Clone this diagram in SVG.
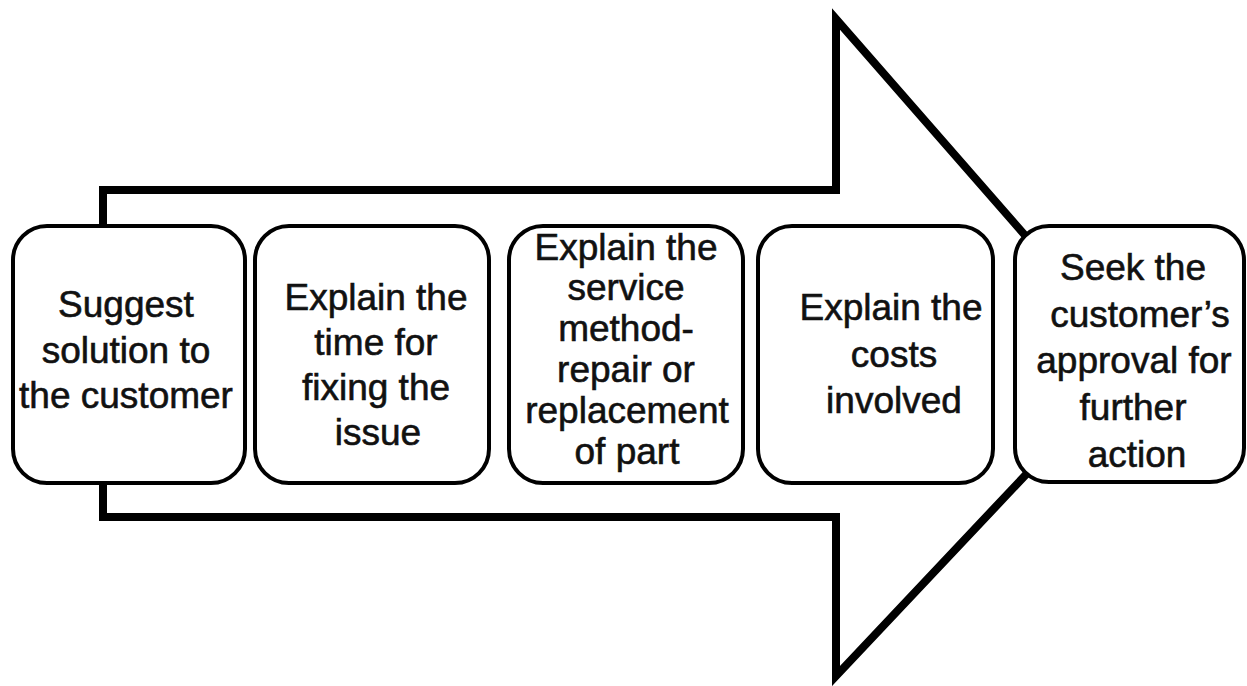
<svg xmlns="http://www.w3.org/2000/svg" width="1247" height="686" viewBox="0 0 1247 686">
<style>
.box{fill:#fff;stroke:#000;stroke-width:4}
.lbl{font-family:"Liberation Sans",Arial,sans-serif;font-size:37px;fill:#111;stroke:#111;stroke-width:0.6;text-anchor:middle}
.arrow{fill:#fff;stroke:#000;stroke-width:8;stroke-linejoin:miter}
</style>
<rect width="1247" height="686" fill="#fff"/>
<g id="connectors">
<polygon class="arrow" points="103,190 836,190 836,19 1134,360 836,676 836,517 103,517"/>
</g>
<g id="node1">
<rect class="box" x="13" y="226" width="232" height="257" rx="34"/>
<text class="lbl"><tspan x="126" y="317">Suggest</tspan><tspan x="126" y="363">solution to</tspan><tspan x="126" y="408">the customer</tspan></text>
</g>
<g id="node2">
<rect class="box" x="255" y="226" width="234" height="257" rx="34"/>
<text class="lbl"><tspan x="376" y="310">Explain the</tspan><tspan x="376" y="355">time for</tspan><tspan x="376" y="400">fixing the</tspan><tspan x="378" y="445">issue</tspan></text>
</g>
<g id="node3">
<rect class="box" x="509" y="226" width="234" height="257" rx="34"/>
<text class="lbl"><tspan x="626" y="260">Explain the</tspan><tspan x="626" y="300">service</tspan><tspan x="626" y="341">method-</tspan><tspan x="626" y="382">repair or</tspan><tspan x="627" y="423">replacement</tspan><tspan x="627" y="464">of part</tspan></text>
</g>
<g id="node4">
<rect class="box" x="758" y="226" width="235" height="257" rx="34"/>
<text class="lbl"><tspan x="891" y="320">Explain the</tspan><tspan x="894" y="367">costs</tspan><tspan x="894" y="413">involved</tspan></text>
</g>
<g id="node5">
<rect class="box" x="1015" y="226" width="229" height="256" rx="34"/>
<text class="lbl"><tspan x="1133" y="280">Seek the</tspan><tspan x="1140" y="327">customer’s</tspan><tspan x="1134" y="373">approval for</tspan><tspan x="1133" y="420">further</tspan><tspan x="1137" y="467">action</tspan></text>
</g>
</svg>
